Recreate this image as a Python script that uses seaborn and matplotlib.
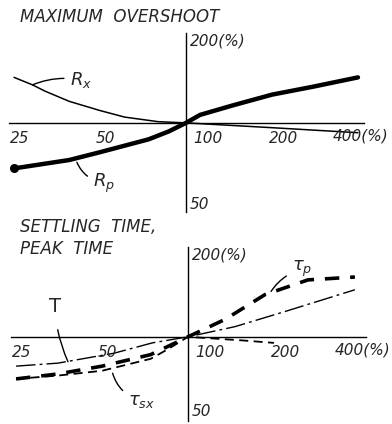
import matplotlib
matplotlib.use("Agg")
import matplotlib.pyplot as plt
import seaborn as sns
from matplotlib.ticker import NullLocator

# ---------------- data ----------------
x_ticks = [25, 50, 100, 200, 400]
x_tick_labels = ["25", "50", "100", "200", "400(%)"]
y_ticks_major = [50, 200]
y_tick_labels = ["50", "200(%)"]
y_ticks_minor = [71, 141]

# Maximum overshoot
rx_x = [25, 29, 32, 39, 50, 61, 80, 100, 200, 400]
rx_y = [147, 138, 131, 120, 111, 105, 101, 100, 96, 92]
rp_x = [25, 39, 50, 74, 87, 100, 112, 146, 200, 280, 400]
rp_y = [68, 73, 78, 87, 93, 100, 107, 116, 127, 136, 147]

# Settling time, peak time
tp_x = [25, 35, 50, 74, 100, 135, 186, 263, 384]
tp_y = [70, 73, 78, 86, 100, 116, 143, 162, 166]
T_x = [25, 35, 55, 75, 100, 146, 219, 384]
T_y = [78, 80, 87, 95, 100, 109, 124, 149]
tsx_x = [25, 35, 50, 74, 85, 100, 155, 200]
tsx_y = [70, 72, 75, 83, 90, 100, 97, 95]

titles_top = "MAXIMUM  OVERSHOOT"
titles_bottom = "SETTLING  TIME,\nPEAK  TIME"

# ---------------- style ----------------
sns.set_style("white")
plt.rcParams["font.family"] = ["DejaVu Sans"]
plt.rcParams["mathtext.fontset"] = "dejavusans"

W, H = 392, 424
fig = plt.figure(figsize=(W / 100, H / 100), dpi=100)
fig.patch.set_facecolor("white")


def frac_rect(left_px, right_px, top_px, bottom_px):
    return [left_px / W, 1 - bottom_px / H, (right_px - left_px) / W, (bottom_px - top_px) / H]


ax1 = fig.add_axes(frac_rect(9, 364, 32.5, 212))
ax2 = fig.add_axes(frac_rect(11, 366, 246.5, 421))

# offsets (pixels) for x tick labels and alignment
x_lab_off = [(-4, -8, "left"), (-4, -8, "left"), (7, -8, "left"), (-3, -8, "left"), (3, -6, "center")]

for ax, ylo, y50_dy in ((ax1, 47, 0), (ax2, 49, 7)):
    ax.set_xscale("log", base=2)
    ax.set_yscale("log", base=2)
    ax.set_xlim(24, 420)
    ax.set_ylim(ylo, 215)
    ax.set_facecolor("white")
    for s in ("top", "right"):
        ax.spines[s].set_visible(False)
    ax.spines["left"].set_position(("data", 100))
    ax.spines["bottom"].set_position(("data", 100))
    for s in ("left", "bottom"):
        ax.spines[s].set_color("black")
        ax.spines[s].set_linewidth(1.0)
    ax.set_xticks([50, 200, 400])
    ax.set_yticks(y_ticks_major + y_ticks_minor)
    ax.set_xticklabels([])
    ax.set_yticklabels([])
    ax.xaxis.set_minor_locator(NullLocator())
    ax.yaxis.set_minor_locator(NullLocator())
    ax.tick_params(direction="inout", length=7, width=1, colors="black")
    ax.set_xlabel("")
    ax.set_ylabel("")
    for xv, lab, (dx, dy, ha) in zip(x_ticks, x_tick_labels, x_lab_off):
        ax.annotate(lab, xy=(xv, 100), xytext=(dx, dy), textcoords="offset pixels",
                    ha=ha, va="top", fontsize=11, style="italic")
    for yv, lab in zip(y_ticks_major, y_tick_labels):
        dy = y50_dy if yv == 50 else 0
        ax.annotate(lab, xy=(100, yv), xytext=(4, dy), textcoords="offset pixels",
                    ha="left", va="center", fontsize=11, style="italic")

# ---------- top panel ----------
sns.lineplot(x=rx_x, y=rx_y, ax=ax1, color="black", lw=1.1)
sns.lineplot(x=rp_x, y=rp_y, ax=ax1, color="black", lw=3.2, solid_capstyle="round")
ax1.plot(rp_x[0], rp_y[0], "o", color="black", ms=5.5)

ax1.annotate(r"$R_x$", xy=(29, 138), xytext=(70, H - 80), textcoords="figure pixels",
             fontsize=13, ha="left", va="center",
             arrowprops=dict(arrowstyle="-", color="black", lw=1,
                             shrinkA=2, shrinkB=0, connectionstyle="arc3,rad=0.15"))
ax1.annotate(r"$R_p$", xy=(41, 74), xytext=(93, H - 183), textcoords="figure pixels",
             fontsize=13, ha="left", va="center",
             arrowprops=dict(arrowstyle="-", color="black", lw=1,
                             shrinkA=2, shrinkB=3, connectionstyle="arc3,rad=-0.3"))
fig.text(20 / W, 1 - 17 / H, titles_top, fontsize=12, style="italic", va="center", ha="left")

# ---------- bottom panel ----------
sns.lineplot(x=tp_x, y=tp_y, ax=ax2, color="black", lw=2.6, linestyle=(0, (4, 3)))
sns.lineplot(x=T_x, y=T_y, ax=ax2, color="black", lw=1.0, linestyle=(0, (14, 3, 2, 3)))
sns.lineplot(x=tsx_x, y=tsx_y, ax=ax2, color="black", lw=1.3, linestyle=(0, (5, 3)))

ax2.annotate(r"$\tau_p$", xy=(193, 144), xytext=(292, H - 269), textcoords="figure pixels",
             fontsize=13, ha="left", va="center",
             arrowprops=dict(arrowstyle="-", color="black", lw=1,
                             shrinkA=2, shrinkB=2, connectionstyle="arc3,rad=0.2"))
ax2.annotate("T", xy=(38, 81), xytext=(55, H - 306), textcoords="figure pixels",
             fontsize=14, ha="center", va="center",
             arrowprops=dict(arrowstyle="-", color="black", lw=1,
                             shrinkA=8, shrinkB=0, connectionstyle="arc3,rad=0.1"))
ax2.annotate(r"$\tau_{sx}$", xy=(54, 76), xytext=(128, H - 401), textcoords="figure pixels",
             fontsize=13, ha="left", va="center",
             arrowprops=dict(arrowstyle="-", color="black", lw=1,
                             shrinkA=2, shrinkB=3, connectionstyle="arc3,rad=-0.3"))
fig.text(20 / W, 1 - 238 / H, titles_bottom, fontsize=12, style="italic", va="center",
         ha="left", linespacing=1.25)

fig.savefig("out.png", dpi=100, facecolor="white")
